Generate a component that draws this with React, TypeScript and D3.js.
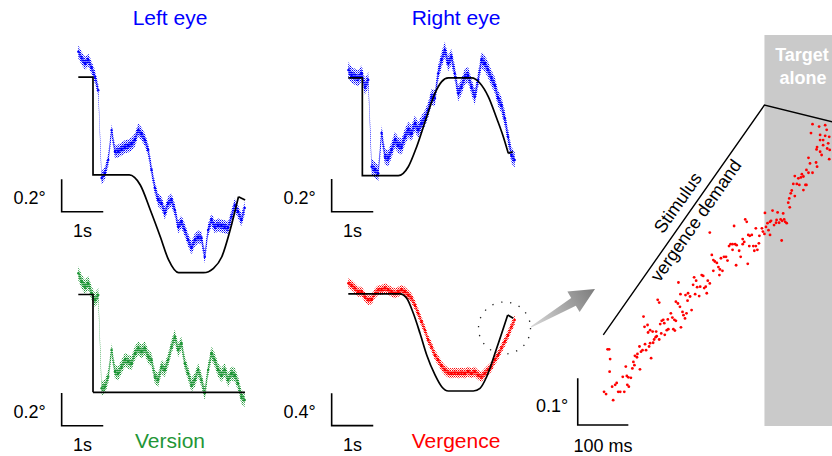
import React from 'react'
import * as d3 from 'd3'

const W = 832
const H = 456
const FONT = 'Arial, "Liberation Sans", Helvetica, sans-serif'

// eye position traces, one sample every 80 ms, in degrees
const sampleStep = 0.08
const leftEye = [1.356, 1.315, 1.285, 1.305, 1.256, 1.202, 1.12, 0.581, 0.612, 0.691, 0.875, 0.742, 0.747, 0.759, 0.773, 0.777, 0.79, 0.814, 0.875, 0.851, 0.814, 0.753, 0.63, 0.52, 0.446, 0.428, 0.366, 0.428, 0.446, 0.385, 0.282, 0.311, 0.262, 0.2, 0.152, 0.2, 0.219, 0.213, 0.098, 0.262, 0.323, 0.282, 0.293, 0.287, 0.282, 0.274, 0.344, 0.415, 0.374, 0.323, 0.397]
const rightEye = [0.648, 0.618, 0.607, 0.598, 0.628, 0.546, 0.587, 0.055, 0.035, 0.015, 0.262, 0.117, 0.107, 0.158, 0.219, 0.188, 0.178, 0.239, 0.28, 0.26, 0.321, 0.28, 0.321, 0.352, 0.403, 0.485, 0.475, 0.628, 0.71, 0.771, 0.69, 0.73, 0.628, 0.506, 0.546, 0.607, 0.618, 0.546, 0.485, 0.587, 0.71, 0.69, 0.648, 0.598, 0.556, 0.475, 0.434, 0.352, 0.239, 0.127, 0.096]
const version = [0.73, 0.679, 0.648, 0.669, 0.607, 0.566, 0.597, 0.025, 0.034, 0.096, 0.26, 0.126, 0.117, 0.157, 0.198, 0.188, 0.178, 0.239, 0.27, 0.249, 0.27, 0.218, 0.198, 0.096, 0.075, 0.157, 0.137, 0.198, 0.28, 0.341, 0.26, 0.301, 0.178, 0.117, 0.045, 0.075, 0.137, 0.075, -0.006, 0.137, 0.239, 0.198, 0.137, 0.106, 0.137, 0.075, 0.117, 0.106, 0.055, -0.027, -0.047]
const vergence = [1.33, 1.309, 1.268, 1.226, 1.226, 1.164, 1.123, 1.132, 1.206, 1.247, 1.247, 1.268, 1.247, 1.226, 1.206, 1.226, 1.247, 1.226, 1.185, 1.144, 1.062, 0.959, 0.856, 0.753, 0.63, 0.547, 0.444, 0.383, 0.309, 0.259, 0.226, 0.219, 0.226, 0.219, 0.226, 0.219, 0.238, 0.219, 0.238, 0.198, 0.177, 0.219, 0.259, 0.3, 0.383, 0.444, 0.527, 0.609, 0.691, 0.794, 0.877]

// stimulus (target) position, s / deg
const leftStimT = [0, 0.353, 0.354, 1.226, 1.49, 1.731, 1.971, 2.171, 2.41, 3.01, 3.25, 3.45, 3.65, 3.85, 4.01]
const leftStimV = [1.2, 1.2, 0.6, 0.6, 0.538, 0.385, 0.221, 0.078, 0, 0, 0.027, 0.098, 0.262, 0.466, 0.446]
const rightStimT = [0, 0.337, 0.338, 1.202, 1.442, 1.644, 1.885, 2.084, 2.245, 2.404, 2.966, 3.166, 3.365, 3.567, 3.726, 3.846, 3.952]
const rightStimV = [0.6, 0.6, 0, 0, 0.055, 0.178, 0.362, 0.506, 0.577, 0.6, 0.6, 0.567, 0.485, 0.352, 0.239, 0.137, 0.147]
const versionStimT = [0, 0.353, 0.354, 4.007]
const versionStimV = [0.6, 0.6, 0, 0]
const vergenceStimT = [0, 1.243, 1.404, 1.563, 1.724, 1.885, 2.084, 2.245, 2.404, 3.005, 3.166, 3.327, 3.567, 3.832, 3.966]
const vergenceStimV = [1.2, 1.2, 1.144, 0.959, 0.712, 0.444, 0.198, 0.053, 0, 0, 0.033, 0.177, 0.527, 0.938, 0.898]

// zoomed vergence samples (ms, deg)
const insetT = [15, 18, 20, 19, 8, 12, 26, 24, 30, 33, 36, 40, 45, 48, 53, 56, 54, 57, 61, 51, 64, 66, 68, 69, 73, 74, 79, 81, 84, 78, 89, 91, 101, 97, 99, 105, 107, 110, 112, 117, 111, 95, 99, 104, 88, 94, 86, 114, 117, 119, 122, 125, 127, 121, 128, 132, 135, 134, 140, 143, 147, 150, 145, 148, 160, 154, 150, 158, 163, 165, 168, 171, 159, 155, 169, 174, 173, 178, 181, 188, 184, 190, 186, 192, 196, 198, 201, 204, 206, 209, 211, 213, 217, 221, 224, 224,
  217, 227, 231, 234, 237, 236, 239, 242, 245, 249, 252, 255, 258, 262, 267, 262, 270, 275, 278, 269, 282, 285, 282, 265, 287, 290, 293, 296, 300, 295, 303, 308, 305, 311, 308, 314, 315, 320, 322, 292, 325, 326, 328, 331, 333, 336, 336, 338, 341, 344, 348, 349, 354, 351, 357, 360, 364, 362, 366, 369, 359, 372, 374, 375, 377, 379, 382, 385, 389, 394, 402, 406, 408,
  420, 433, 445, 448, 417, 435, 445, 453, 441, 435, 451, 429, 441, 428, 449, 438, 435, 454, 453, 412, 415, 427, 429, 408, 412, 420, 399, 397, 402, 392, 385]
const insetV = [0.13, 0.13, 0.109, 0.082, 0.039, 0.034, 0.021, 0.05, 0.054, 0.058, 0.039, 0.039, 0.071, 0.039, 0.073, 0.07, 0.054, 0.05, 0.069, 0.093, 0.089, 0.103, 0.096, 0.116, 0.113, 0.12, 0.087, 0.125, 0.128, 0.136, 0.141, 0.128, 0.111, 0.136, 0.143, 0.144, 0.151, 0.156, 0.158, 0.151, 0.168, 0.166, 0.171, 0.168, 0.178, 0.182, 0.2, 0.236, 0.23, 0.184, 0.191, 0.193, 0.186, 0.164, 0.161, 0.171, 0.173, 0.194, 0.207, 0.198, 0.193, 0.191, 0.173, 0.17, 0.177, 0.228, 0.232, 0.221, 0.21, 0.203, 0.196, 0.207, 0.248, 0.273, 0.246, 0.25, 0.234, 0.243, 0.214, 0.248, 0.268, 0.277, 0.284, 0.263, 0.244, 0.264, 0.289, 0.287, 0.261, 0.264, 0.25, 0.277, 0.271, 0.332, 0.298, 0.321,
  0.38, 0.318, 0.315, 0.306, 0.301, 0.289, 0.325, 0.298, 0.328, 0.328, 0.32, 0.351, 0.355, 0.355, 0.355, 0.343, 0.353, 0.341, 0.328, 0.31, 0.355, 0.36, 0.366, 0.394, 0.408, 0.403, 0.375, 0.373, 0.375, 0.351, 0.351, 0.351, 0.341, 0.343, 0.389, 0.357, 0.373, 0.389, 0.382, 0.313, 0.377, 0.422, 0.392, 0.4, 0.385, 0.375, 0.403, 0.405, 0.427, 0.396, 0.401, 0.407, 0.401, 0.423, 0.408, 0.405, 0.408, 0.421, 0.403, 0.4, 0.363, 0.444, 0.453, 0.434, 0.464, 0.47, 0.484, 0.458, 0.484, 0.482, 0.471, 0.482, 0.482,
  0.612, 0.607, 0.61, 0.6, 0.593, 0.589, 0.587, 0.585, 0.578, 0.578, 0.571, 0.563, 0.567, 0.558, 0.56, 0.546, 0.553, 0.557, 0.537, 0.54, 0.528, 0.53, 0.521, 0.514, 0.508, 0.508, 0.505, 0.498, 0.5, 0.496, 0.501]
const insetStimT = [6.5, 325, 470]
const insetStimV = [0.161, 0.653, 0.614]
const targetAloneStart = 325 // ms

const PX_PER_S = 41.6

const panels = [
  { key: 'left', title: 'Left eye', titleX: 170, titleY: 25, color: '#0000ff', values: leftEye, stimT: leftStimT, stimV: leftStimV,
    x0: 78.3, y0: 272.7, pxPerDeg: 163, hw: 6.5, bar: [-0.4, 0.374], barDeg: 0.2, barLabel: '0.2°' },
  { key: 'right', title: 'Right eye', titleX: 456, titleY: 25, color: '#0000ff', values: rightEye, stimT: rightStimT, stimV: rightStimV,
    x0: 348.3, y0: 175.7, pxPerDeg: 163, hw: 8, bar: [-0.4, -0.221], barDeg: 0.2, barLabel: '0.2°' },
  { key: 'version', title: 'Version', titleX: 170, titleY: 448.3, color: '#1f9637', values: version, stimT: versionStimT, stimV: versionStimV,
    x0: 78.3, y0: 392.3, pxPerDeg: 163, hw: 7, bar: [-0.4, -0.205], barDeg: 0.2, barLabel: '0.2°' },
  { key: 'vergence', title: 'Vergence', titleX: 456, titleY: 448.3, color: '#ff0000', values: vergence, stimT: vergenceStimT, stimV: vergenceStimV,
    x0: 348.3, y0: 391, pxPerDeg: 81, hw: 5, bar: [-0.4, -0.428], barDeg: 0.4, barLabel: '0.4°' },
]

function scalesFor(p) {
  const x = d3.scaleLinear().domain([0, 1]).range([p.x0, p.x0 + PX_PER_S])
  const y = d3.scaleLinear().domain([0, 1]).range([p.y0, p.y0 - p.pxPerDeg])
  return { x, y }
}

function EyePanel({ p }) {
  const { x, y } = scalesFor(p)
  const band = d3.area<number>()
    .x((_, i) => x(i * sampleStep))
    .y0(d => y(d) + p.hw)
    .y1(d => y(d) - p.hw)
  const core = d3.area<number>()
    .x((_, i) => x(i * sampleStep))
    .y0(d => y(d) + p.hw * 0.45)
    .y1(d => y(d) - p.hw * 0.45)
  const pts = p.stimT.map((t, i) => [x(t), y(p.stimV[i])] as [number, number])
  const n = pts.length
  const smooth = d3.line().curve(d3.curveMonotoneX)(pts.slice(0, n - 1))
  const last = d3.line()(pts.slice(n - 2))
  const [bt, bv] = p.bar
  const bx = x(bt), by = y(bv), bx2 = x(bt + 1)
  return (
    <g>
      <path d={band(p.values) || ''} fill={`url(#dots-${p.key})`} />
      <path d={core(p.values) || ''} fill={`url(#dots2-${p.key})`} />
      {p.values.map((v, i) => (
        <circle key={i} cx={x(i * sampleStep)} cy={y(v)} r={1.2} fill={p.color} />
      ))}
      <path d={smooth || ''} fill="none" stroke="#000" strokeWidth={1.7} />
      <path d={last || ''} fill="none" stroke="#000" strokeWidth={1.7} />
      <path d={`M${bx},${y(bv + p.barDeg)}V${by}H${bx2}`} fill="none" stroke="#000" strokeWidth={1.6} />
      <text x={bx - 16} y={by - 7.7} textAnchor="end" fontSize={18}>{p.barLabel}</text>
      <text x={(bx + bx2) / 2} y={by + 25.6} textAnchor="middle" fontSize={18}>1s</text>
      <text x={p.titleX} y={p.titleY} textAnchor="middle" fontSize={21} fill={p.color}>{p.title}</text>
    </g>
  )
}

export default function App() {
  // zoomed inset scales
  const xi = d3.scaleLinear().domain([0, 100]).range([600, 650.6])
  const yi = d3.scaleLinear().domain([0, 0.1]).range([410, 363.3])
  const stimPts = insetStimT.map((t, i) => [xi(t), yi(insetStimV[i])] as [number, number])
  const [p0, p1] = stimPts
  const segLen = Math.hypot(p1[0] - p0[0], p1[1] - p0[1])
  const angle = (Math.atan2(p1[1] - p0[1], p1[0] - p0[0]) * 180) / Math.PI

  // dotted circle around the end of the vergence trace
  const verg = scalesFor(panels[3])
  const cx = verg.x(3.755), cy = verg.y(0.778)

  // gray arrow from the circle to the inset
  const tail = [531, 327], tip = [595, 289]
  const len = Math.hypot(tip[0] - tail[0], tip[1] - tail[1])
  const ux = (tip[0] - tail[0]) / len, uy = (tip[1] - tail[1]) / len
  const nx = -uy, ny = ux
  const at = (s, w) => `${tail[0] + ux * s + nx * w},${tail[1] + uy * s + ny * w}`
  const headS = len - 25
  const arrow = [at(0, 0.6), at(headS, 4.5), at(headS, 12), at(len, 0), at(headS, -12), at(headS, -4.5), at(0, -0.6)].join(' ')

  const bx = xi(-44), by = yi(-0.032)

  return (
    <svg width={W} height={H} viewBox={`0 0 ${W} ${H}`} fontFamily={FONT}
      style={{ position: 'absolute', left: 0, top: 0, background: '#fff' }}>
      <defs>
        {panels.map(p => (
          <pattern key={p.key} id={`dots-${p.key}`} width={2} height={2} patternUnits="userSpaceOnUse">
            <rect width={1} height={1} fill={p.color} />
            <rect x={1} y={1} width={1} height={1} fill={p.color} opacity={0.6} />
          </pattern>
        ))}
        {panels.map(p => (
          <pattern key={p.key + '2'} id={`dots2-${p.key}`} width={2} height={2} patternUnits="userSpaceOnUse">
            <rect x={1} y={0} width={1} height={1} fill={p.color} />
            <rect x={0} y={1} width={1} height={1} fill={p.color} opacity={0.5} />
          </pattern>
        ))}
        <linearGradient id="arrowGrad" gradientUnits="userSpaceOnUse" x1={tail[0]} y1={tail[1]} x2={tip[0]} y2={tip[1]}>
          <stop offset="0" stopColor="#d8d8d8" />
          <stop offset="1" stopColor="#7c7c7c" />
        </linearGradient>
      </defs>

      {panels.map(p => <EyePanel key={p.key} p={p} />)}

      <circle cx={cx} cy={cy} r={26} fill="none" stroke="#222" strokeWidth={1.3} strokeDasharray="1.3 7.8" />
      <polygon points={arrow} fill="url(#arrowGrad)" />

      {/* inset */}
      <rect x={xi(targetAloneStart)} y={35} width={W - xi(targetAloneStart)} height={391} fill="#cacaca" />
      <text x={802} y={61} textAnchor="middle" fontSize={18} fontWeight="bold" fill="#fff">Target</text>
      <text x={803} y={84.3} textAnchor="middle" fontSize={18} fontWeight="bold" fill="#fff">alone</text>
      <path d={d3.line()(stimPts) || ''} fill="none" stroke="#000" strokeWidth={1.4} />
      <g transform={`translate(${p0[0]},${p0[1]}) rotate(${angle})`} fontSize={18}>
        <text x={segLen * 0.538} y={-8.8} textAnchor="middle">Stimulus</text>
        <text x={segLen * 0.523} y={16.3} textAnchor="middle">vergence demand</text>
      </g>
      {insetT.map((t, i) => (
        <circle key={i} cx={xi(t)} cy={yi(insetV[i])} r={1.4} fill="#ff0000" />
      ))}
      <path d={`M${bx},${yi(-0.032 + 0.1)}V${by}H${xi(56)}`} fill="none" stroke="#000" strokeWidth={1.6} />
      <text x={bx - 9.4} y={by - 13.3} textAnchor="end" fontSize={18}>0.1°</text>
      <text x={(bx + xi(56)) / 2} y={by + 26.7} textAnchor="middle" fontSize={18}>100 ms</text>
    </svg>
  )
}
